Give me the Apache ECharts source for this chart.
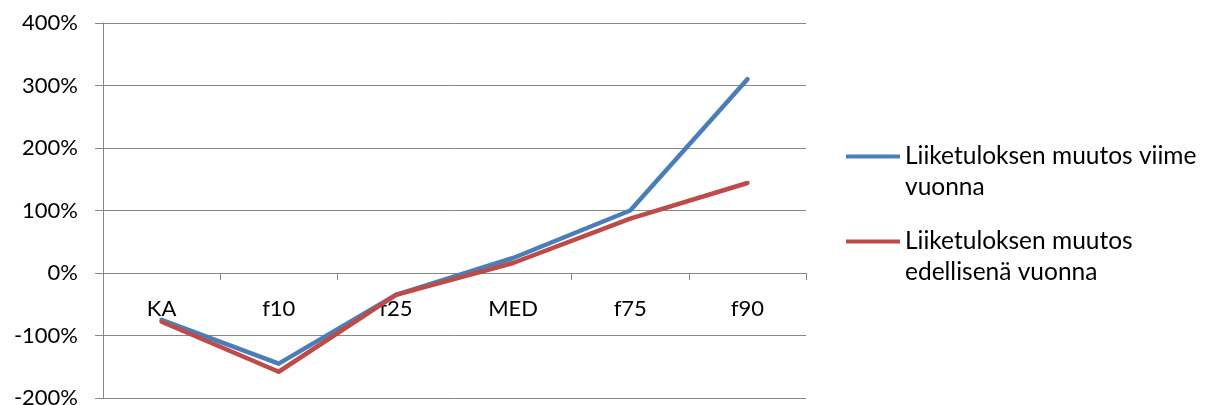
<!DOCTYPE html>
<html>
<head>
<meta charset="utf-8">
<script src="https://cdn.jsdelivr.net/npm/echarts@6/dist/echarts.min.js"></script>
<style>
html,body{margin:0;padding:0;background:#fff;}
#chart{width:1215px;height:405px;}
</style>
</head>
<body>
<div id="chart"></div>
<script>
var categories = ['KA', 'f10', 'f25', 'MED', 'f75', 'f90'];
var seriesNames = ['Liiketuloksen muutos viime vuonna', 'Liiketuloksen muutos edellisenä vuonna'];
var viimeVuonna = [-75, -145, -35, 24, 100, 310];
var edellisenaVuonna = [-78, -158, -35, 16, 87, 144];
var yTicks = [-200, -100, 0, 100, 200, 300, 400];

var FONT = 'Lato';
var GRAY = '#878787';
var GRID_TOP = 23, GRID_BOTTOM = 7, H = 405;
var plotH = H - GRID_TOP - GRID_BOTTOM;
var yMin = yTicks[0], yMax = yTicks[yTicks.length - 1];
// distance from grid bottom up to the zero line
var zeroOffset = plotH * (0 - yMin) / (yMax - yMin);

var chart = echarts.init(document.getElementById('chart'), null, {renderer: 'canvas'});
chart.setOption({
  animation: false,
  backgroundColor: '#ffffff',
  grid: {left: 103, right: 409, top: GRID_TOP, bottom: GRID_BOTTOM, containLabel: false, outerBoundsMode: 'none'},
  legend: {
    orient: 'vertical',
    left: 846,
    top: 110,
    padding: 0,
    itemWidth: 54,
    itemHeight: 10,
    itemGap: -8,
    icon: 'path://M0,3 L54,3 L54,7 L0,7 Z',
    data: seriesNames,
    formatter: function (name) { return '\n' + name; },
    textStyle: {
      fontFamily: FONT, fontSize: 24.5, color: '#000', lineHeight: 31,
      width: 300, overflow: 'break'
    }
  },
  xAxis: [{
    type: 'category',
    data: categories,
    boundaryGap: true,
    axisLine: {onZero: true, lineStyle: {color: GRAY, width: 1}},
    axisTick: {show: true, length: 7, inside: false, lineStyle: {color: GRAY}},
    axisLabel: {show: false},
    splitLine: {show: false}
  }, {
    type: 'category',
    data: categories,
    boundaryGap: true,
    position: 'bottom',
    offset: -zeroOffset,
    axisLine: {show: false, onZero: false},
    axisTick: {show: false},
    axisLabel: {fontFamily: FONT, fontSize: 22, color: '#000', margin: 25},
    splitLine: {show: false}
  }],
  yAxis: {
    type: 'value',
    min: yMin,
    max: yMax,
    interval: 100,
    axisLine: {show: true, lineStyle: {color: GRAY, width: 1}},
    axisTick: {show: true, length: 8, lineStyle: {color: GRAY}},
    axisLabel: {fontFamily: FONT, fontSize: 22, color: '#000', margin: 25, formatter: '{value}%'},
    splitLine: {show: true, lineStyle: {color: GRAY, width: 1}}
  },
  series: [
    {name: seriesNames[0], type: 'line', data: viimeVuonna, symbol: 'none', xAxisIndex: 0,
     lineStyle: {color: '#4A7EBB', width: 4.5, join: 'round', cap: 'round'}, itemStyle: {color: '#4A7EBB'}},
    {name: seriesNames[1], type: 'line', data: edellisenaVuonna, symbol: 'none', xAxisIndex: 0,
     lineStyle: {color: '#BE4B48', width: 4.5, join: 'round', cap: 'round'}, itemStyle: {color: '#BE4B48'}}
  ]
});
</script>
</body>
</html>
